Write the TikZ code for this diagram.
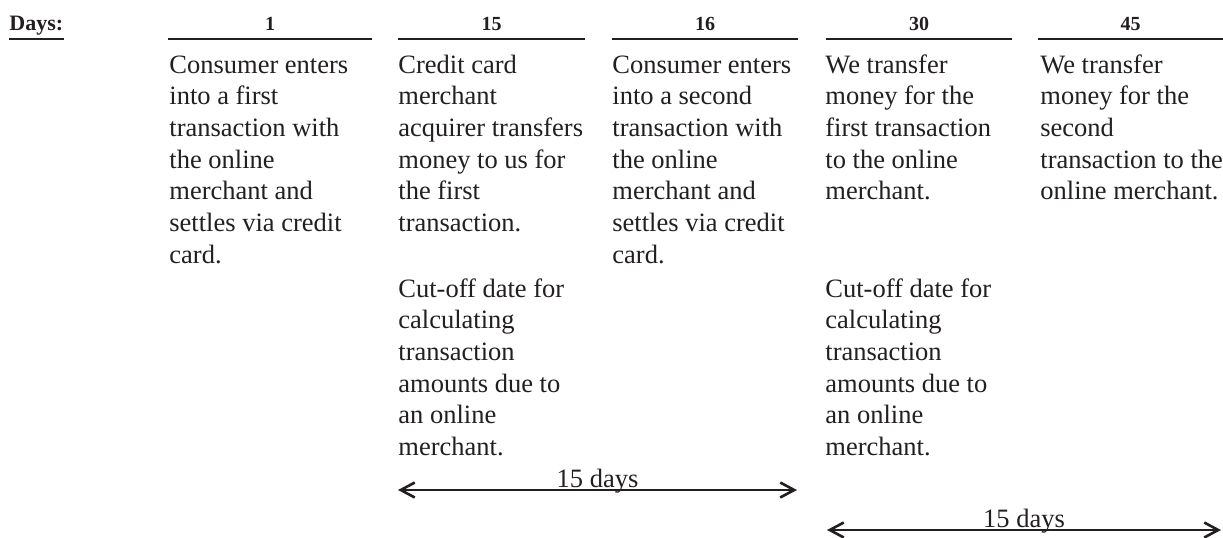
\documentclass[tikz,border=0pt]{standalone}
\usepackage{fontspec}
\setmainfont{Liberation Serif}
\usetikzlibrary{arrows.meta}
\definecolor{ink}{HTML}{231F20}

\begin{document}
\begin{tikzpicture}
		[   x=0.5pt, y=-0.5pt,
		    dayline/.style={draw=ink,line width=1.35pt},
		    daynum/.style={font=\fontsize{10}{12}\selectfont\bfseries,text=ink,inner sep=0pt,anchor=base},
		    dayblock/.style={font=\fontsize{13.25}{15.85}\selectfont,text=ink,align=left,anchor=base west,inner sep=0pt},
		]
		\tikzset{gapspan/.style={draw=ink,line width=1pt,{Straight Barb[length=7pt,width=7.5pt,line width=1.3pt]}-{Straight Barb[length=7pt,width=7.5pt,line width=1.3pt]}}}
		\tikzset{spanlabel/.style={font=\fontsize{13.25}{15.85}\selectfont,text=ink,inner sep=0pt,anchor=base,yshift=1.2pt}}
		\useasboundingbox (0,0) rectangle (1223,537);
		
		\node[font=\fontsize{11}{13}\selectfont\bfseries,text=ink,inner sep=0pt,anchor=base west] (days) at (9,30) {Days:};
		\draw[ink,line width=1.2pt] ([yshift=-4.5pt]days.base west) -- ([yshift=-4.5pt]days.base east);
		
		\foreach \l/\r/\d in {168/372/1,398/585/15,612/798/16,826/1012/30,1038/1223/45}
			{
				\draw[dayline] (\l,39) -- (\r,39);
				\node[daynum] (day-\d) at ({(\l+\r)/2},30) {\d};
			}
		
		% base anchor sits on the last line of each block
		\node[dayblock] (ev-1) at (169,263.2) {Consumer enters\\into a first\\transaction with\\the online\\merchant and\\settles via credit\\card.};
		\node[dayblock] (ev-15) at (398,231.5) {Credit card\\merchant\\acquirer transfers\\money to us for\\the first\\transaction.};
		\node[dayblock] (cut-15) at (398,455.5) {Cut-off date for\\calculating\\transaction\\amounts due to\\an online\\merchant.};
		\node[dayblock] (ev-16) at (612,263.2) {Consumer enters\\into a second\\transaction with\\the online\\merchant and\\settles via credit\\card.};
		\node[dayblock] (ev-30) at (825,199.8) {We transfer\\money for the\\first transaction\\to the online\\merchant.};
		\node[dayblock] (cut-30) at (825,455.5) {Cut-off date for\\calculating\\transaction\\amounts due to\\an online\\merchant.};
		\node[dayblock] (ev-45) at (1040,199.8) {We transfer\\money for the\\second\\transaction to the\\online merchant.};
		
		\coordinate (g1-a) at (398,490);
		\coordinate (g1-b) at (797,490);
		\coordinate (g2-a) at (827,530);
		\coordinate (g2-b) at (1221,530);
		
		\path[gapspan] (g1-a) -- node[spanlabel] (gap-1) {15 days} (g1-b);
		\path[gapspan] (g2-a) -- node[spanlabel] (gap-2) {15 days} (g2-b);
		
		\end{tikzpicture}
\end{document}
